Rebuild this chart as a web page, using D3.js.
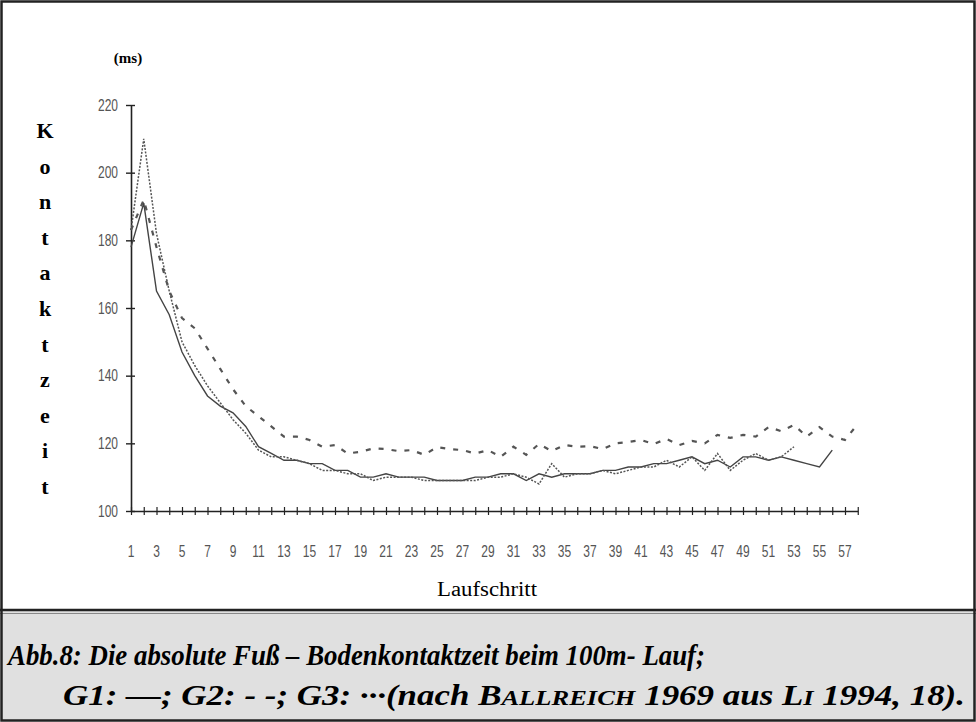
<!DOCTYPE html>
<html>
<head>
<meta charset="utf-8">
<script src="https://cdn.jsdelivr.net/npm/d3@7"></script>
<style>
  html, body { margin: 0; padding: 0; background: #fff; }
  svg { display: block; }
</style>
</head>
<body>
<svg id="chart" width="976" height="722"></svg>
<script>
// ---- data ----
const steps = d3.range(1, 59);               // Laufschritt 1..58
const yTicks = [100, 120, 140, 160, 180, 200, 220];
const xTickLabels = d3.range(1, 58, 2);       // 1,3,...,57

// G1: solid
const g1 = [178, 191, 165, 158, 147, 140, 134, 131, 129, 125,
            119, 117, 115, 115, 114, 114, 112, 112, 110, 110,
            111, 110, 110, 110, 109, 109, 109, 110, 110, 111,
            111, 109, 111, 110, 111, 111, 111, 112, 112, 113,
            113, 114, 114, 115, 116, 114, 115, 113, 116, 116,
            115, 116, 115, 114, 113, 118];
// G2: dashed
const g2 = [183, 192, 178, 165, 157, 154, 148, 142, 136, 131,
            128, 125, 122, 122, 121, 119, 119.5, 117, 117.5, 118.5,
            118.3, 117.7, 118, 116.6, 118.9, 118.3, 118, 117, 118, 116,
            119, 116.6, 119.8, 117.7, 119.5, 119, 119.2, 118.3, 120, 120.4,
            121, 119.8, 121.3, 119.5, 120.7, 120, 122.5, 121.6, 122.5, 122,
            124.8, 123.6, 125.4, 122, 124.8, 122, 121, 125.7];
// G3: dotted
const g3 = [183, 210, 182, 165, 150, 143, 137, 132, 127, 123,
            118, 116, 116, 115, 114, 112, 112, 111, 111, 109,
            110, 110, 110, 109, 109, 109, 109, 109, 110, 110,
            111, 110, 108, 114, 110, 111, 111, 112, 111, 112,
            113, 113, 115, 113, 116, 112, 117, 112, 115, 117,
            115, 116, 119];

const yLetters = ["K","o","n","t","a","k","t","z","e","i","t"];

// ---- drawing ----
const svg = d3.select("#chart");
const W = 976, H = 722;
const sans = "'Liberation Sans', Arial, sans-serif";
const serif = "'Liberation Serif', 'Times New Roman', serif";

svg.append("rect").attr("x", 0).attr("y", 0).attr("width", W).attr("height", H).attr("fill", "#fff");

// caption panel
svg.append("rect").attr("x", 1).attr("y", 611).attr("width", W - 2).attr("height", H - 612)
  .attr("fill", "#e0e0e0");
svg.append("line").attr("x1", 0).attr("x2", W).attr("y1", 610).attr("y2", 610)
  .attr("stroke", "#222").attr("stroke-width", 2.5);
svg.append("line").attr("x1", 0).attr("x2", W).attr("y1", 613.5).attr("y2", 613.5)
  .attr("stroke", "#888").attr("stroke-width", 1);

// outer border
svg.append("rect").attr("x", 1.5).attr("y", 1.5).attr("width", W - 3).attr("height", H - 3)
  .attr("fill", "none").attr("stroke", "#222").attr("stroke-width", 2.5);

const x = d3.scaleLinear().domain([1, 58]).range([131, 857.75]);
const y = d3.scaleLinear().domain([100, 220]).range([511, 105]);

// y axis
const yAxis = svg.append("g").attr("transform", `translate(${x(1)},0)`)
  .call(d3.axisLeft(y).tickValues(yTicks).tickSize(0).tickFormat(""));
yAxis.select(".domain").attr("stroke", "#222").attr("stroke-width", 1.6);
yAxis.selectAll(".tick").append("line")
  .attr("x1", -5).attr("x2", 4).attr("stroke", "#222").attr("stroke-width", 1.4);

svg.append("g").selectAll("text").data(yTicks).join("text")
  .attr("transform", d => `translate(118,${y(d) + 5.5}) scale(0.75,1)`)
  .attr("text-anchor", "end")
  .attr("font-family", sans).attr("font-size", 16).attr("fill", "#555")
  .text(d => d);

// x axis
const xAxis = svg.append("g").attr("transform", `translate(0,${y(100)})`)
  .call(d3.axisBottom(x).tickValues(steps).tickSize(0).tickFormat(""));
xAxis.select(".domain").attr("stroke", "#222").attr("stroke-width", 1.6);
xAxis.selectAll(".tick").append("line")
  .attr("y1", -4).attr("y2", 4).attr("stroke", "#222").attr("stroke-width", 1.2);

svg.append("g").selectAll("text").data(xTickLabels).join("text")
  .attr("transform", d => `translate(${x(d)},557) scale(0.75,1)`)
  .attr("text-anchor", "middle")
  .attr("font-family", sans).attr("font-size", 16).attr("fill", "#555")
  .text(d => d);

// lines
const line = d3.line().x((d, i) => x(i + 1)).y(d => y(d));

svg.append("path").datum(g1).attr("d", line)
  .attr("fill", "none").attr("stroke", "#444").attr("stroke-width", 1.4);
svg.append("path").datum(g3).attr("d", line)
  .attr("fill", "none").attr("stroke", "#555").attr("stroke-width", 1.5)
  .attr("stroke-dasharray", "2,1.5");
svg.append("path").datum(g2).attr("d", line)
  .attr("fill", "none").attr("stroke", "#555").attr("stroke-width", 2.2)
  .attr("stroke-dasharray", "5,8");

// labels
svg.append("text").attr("x", 128).attr("y", 63).attr("text-anchor", "middle")
  .attr("font-family", serif)
  .attr("font-weight", "bold").attr("font-size", 15).text("(ms)");

svg.append("g").selectAll("text").data(yLetters).join("text")
  .attr("x", 45).attr("y", (d, i) => 138 + i * 35.6)
  .attr("text-anchor", "middle")
  .attr("font-family", serif)
  .attr("font-weight", "bold").attr("font-size", 22)
  .text(d => d);

svg.append("text").attr("x", 437).attr("y", 596)
  .attr("font-family", serif)
  .attr("font-size", 20).attr("textLength", 100).attr("lengthAdjust", "spacingAndGlyphs")
  .text("Laufschritt");

// caption
const cap = svg.append("g")
  .attr("font-family", serif)
  .attr("font-weight", "bold").attr("font-style", "italic").attr("font-size", 29);
cap.append("text").attr("x", 8).attr("y", 665)
  .attr("textLength", 697).attr("lengthAdjust", "spacingAndGlyphs")
  .text("Abb.8: Die absolute Fuß – Bodenkontaktzeit beim 100m- Lauf;");
const t2 = cap.append("text").attr("x", 63).attr("y", 705)
  .attr("textLength", 902).attr("lengthAdjust", "spacingAndGlyphs");
t2.append("tspan").text("G1: —; G2: - -; G3: ···(nach B");
t2.append("tspan").attr("font-size", 22).text("ALLREICH");
t2.append("tspan").text(" 1969 aus L");
t2.append("tspan").attr("font-size", 22).text("I");
t2.append("tspan").text(" 1994, 18).");
</script>
</body>
</html>
